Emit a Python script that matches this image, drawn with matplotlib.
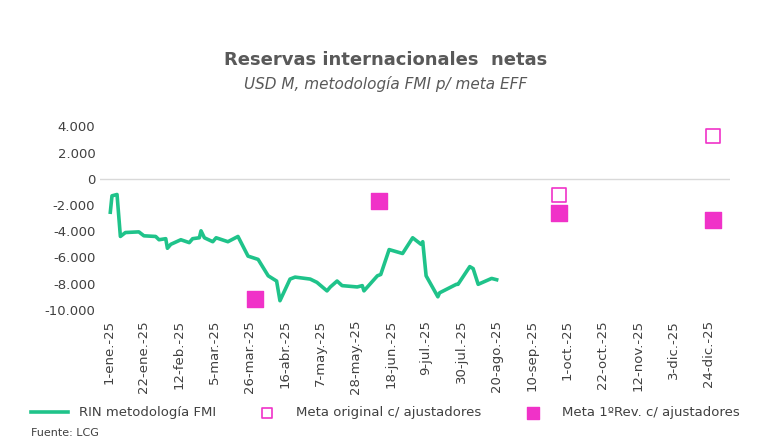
import matplotlib.pyplot as plt
import pandas as pd
from matplotlib.ticker import FuncFormatter

start = pd.Timestamp('2025-01-01')
# line: day offset from 1-ene-25, value USD M
rin_days = [1, 2, 5, 7, 10, 18, 21, 28, 30, 34, 35, 37, 43, 48, 50, 54, 55, 57, 62, 64, 71, 77,
            83, 89, 95, 100, 102, 108, 111, 120, 124, 130, 132, 136, 139, 148, 151, 152, 160,
            162, 167, 175, 181, 186, 187, 189, 196, 197, 207, 208, 215, 217, 220, 228, 231]
rin_vals = [-2550, -1300, -1200, -4400, -4100, -4050, -4350, -4400, -4650, -4570, -5300, -5000,
            -4650, -4870, -4570, -4500, -3970, -4500, -4800, -4500, -4800, -4400, -5900, -6150,
            -7400, -7800, -9300, -7650, -7500, -7650, -7900, -8550, -8250, -7800, -8150, -8250,
            -8150, -8550, -7400, -7300, -5400, -5700, -4500, -5000, -4800, -7400, -9000, -8700,
            -8050, -8050, -6700, -6850, -8050, -7600, -7700]
orig_dates = ['2025-09-26', '2025-12-27']
orig_vals = [-1200, 3300]
rev_dates = ['2025-03-29', '2025-06-11', '2025-09-26', '2025-12-27']
rev_vals = [-9200, -1700, -2600, -3150]

fig = plt.figure(figsize=(7.71, 4.47), dpi=100)
ax = fig.add_axes([0.13, 0.295, 0.817, 0.44])

x = [start + pd.Timedelta(days=d) for d in rin_days]
ax.plot(x, rin_vals, color='#1fc38a', lw=2.6, label='RIN metodología FMI')
ax.scatter(pd.to_datetime(orig_dates), orig_vals, marker='s', s=110, facecolor='white',
           edgecolor='#f032c8', lw=1.2, label='Meta original c/ ajustadores', zorder=3)
ax.scatter(pd.to_datetime(rev_dates), rev_vals, marker='s', s=130, color='#f032c8',
           label='Meta 1ºRev. c/ ajustadores', zorder=3)
ax.axhline(0, color='#d9d9d9', lw=1, zorder=0)

ticks = pd.date_range('2025-01-01', periods=18, freq='21D')
meses = ['ene', 'feb', 'mar', 'abr', 'may', 'jun', 'jul', 'ago', 'sep', 'oct', 'nov', 'dic']
ax.set_xticks(ticks)
ax.set_xticklabels([f'{t.day}-{meses[t.month-1]}.-25' for t in ticks], rotation=90,
                   fontsize=9.5, color='#404040')
ax.set_xlim(pd.Timestamp('2024-12-27'), pd.Timestamp('2026-01-06'))
ax.set_ylim(-10400, 4600)
ax.set_yticks(range(-10000, 4001, 2000))
ax.yaxis.set_major_formatter(FuncFormatter(lambda v, p: f'{int(v):,}'.replace(',', '.')))
ax.tick_params(axis='y', labelsize=9.5, colors='#404040', length=0)
ax.tick_params(axis='x', length=0)
for s in ax.spines.values():
    s.set_visible(False)

fig.text(0.5, 0.855, 'Reservas internacionales  netas', ha='center', fontsize=13,
         fontweight='bold', color='#595959')
fig.text(0.5, 0.8, 'USD M, metodología FMI p/ meta EFF', ha='center', fontsize=11,
         style='italic', color='#595959')
fig.legend(loc='lower center', bbox_to_anchor=(0.5, 0.035), ncol=3, frameon=False,
           fontsize=9.5, labelcolor='#404040', columnspacing=2.5, handlelength=2.8,
           markerscale=0.75)
fig.text(0.04, 0.025, 'Fuente: LCG', fontsize=8, color='#404040')

plt.savefig('out.png')
